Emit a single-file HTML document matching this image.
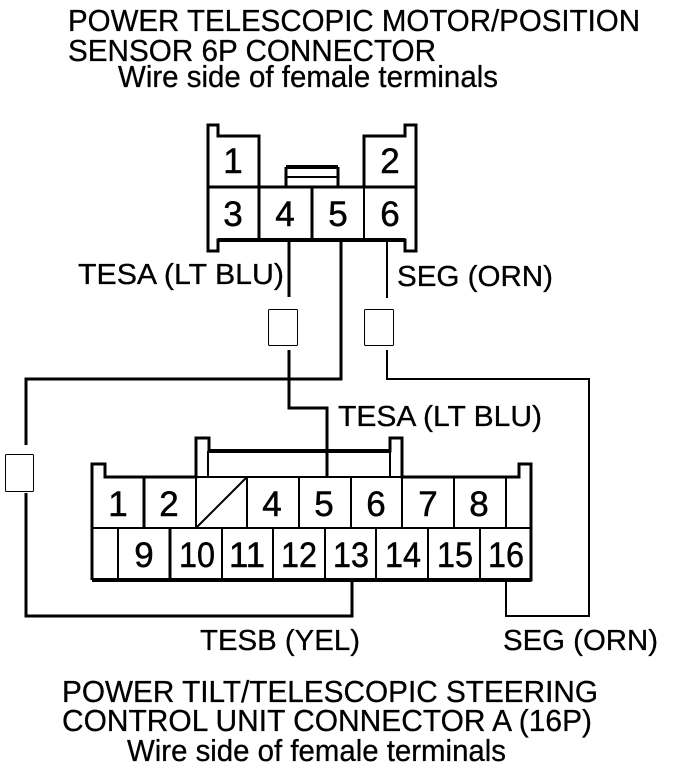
<!DOCTYPE html>
<html><head><meta charset="utf-8"><style>
html,body{margin:0;padding:0;background:#fff;width:688px;height:772px;overflow:hidden}
svg{display:block}
text{font-family:"Liberation Sans",sans-serif;fill:#000;stroke:#000;stroke-width:.3px}
.t{font-size:31px}
.l{font-size:29px}
.n{font-size:35px;text-anchor:middle;stroke-width:.5px}
</style></head><body>
<svg width="688" height="772" viewBox="0 0 688 772" xmlns="http://www.w3.org/2000/svg">
<rect width="688" height="772" fill="#fff"/>
<text class="t" x="68" y="31" textLength="572" lengthAdjust="spacingAndGlyphs">POWER TELESCOPIC MOTOR/POSITION</text>
<text class="t" x="68" y="61" textLength="368" lengthAdjust="spacingAndGlyphs">SENSOR 6P CONNECTOR</text>
<text class="t" x="118" y="87" textLength="380" lengthAdjust="spacingAndGlyphs">Wire side of female terminals</text>
<text class="l" x="78" y="284" textLength="206" lengthAdjust="spacingAndGlyphs">TESA (LT BLU)</text>
<text class="l" x="397" y="286" textLength="156" lengthAdjust="spacingAndGlyphs">SEG (ORN)</text>
<text class="l" x="338" y="426" textLength="204" lengthAdjust="spacingAndGlyphs">TESA (LT BLU)</text>
<text class="l" x="200" y="650" textLength="160" lengthAdjust="spacingAndGlyphs">TESB (YEL)</text>
<text class="l" x="503" y="650" textLength="155" lengthAdjust="spacingAndGlyphs">SEG (ORN)</text>
<text class="t" x="62" y="702" textLength="536" lengthAdjust="spacingAndGlyphs">POWER TILT/TELESCOPIC STEERING</text>
<text class="t" x="62" y="731" textLength="530" lengthAdjust="spacingAndGlyphs">CONTROL UNIT CONNECTOR A (16P)</text>
<text class="t" x="127" y="761" textLength="379" lengthAdjust="spacingAndGlyphs">Wire side of female terminals</text>

<g fill="none" stroke="#000" stroke-linejoin="miter">
<!-- top connector -->
<path stroke-width="3" d="M259 187V136H218V125H208V251H218V240H405V251H416V125H405V136H364V187"/>
<path stroke-width="4" d="M218 240H405M286 167H338"/>
<path stroke-width="3" d="M208 187H416M259 187V240M312 187V240M286 187V167M338 167V187"/>
<path stroke-width="2" d="M364 187V240M286 177H338"/>
<!-- wires -->
<path stroke-width="3" d="M289 240V297M341 240V379H26V445M26 493V616H352V581M289 350V408H327V478"/>
<path stroke-width="2" d="M387 240V298M387 350V379H589V616H506V581"/>
<!-- fuse-like boxes -->
<g stroke-width="1">
<rect x="268.500" y="309.500" width="29" height="36" rx="1"/>
<rect x="364.500" y="309.500" width="29" height="36" rx="1"/>
<rect x="5.500" y="454.500" width="28" height="37" rx="1"/>
</g>
<!-- bottom connector -->
<path stroke-width="3" d="M92 580V464H105V477H196V438H209V451H390V438H402V477H519V464H531V580H92"/>
<path stroke-width="4" d="M92 580H531M209 451H390"/>
<path stroke-width="2" d="M208 451V477M390 451V477M92 528H531M196 477H402M196 477V528M247 477V528M299 477V528M351 477V528M402 477V528M454 477V528M506 477V528M118 528V580M222 528V580M273 528V580M325 528V580M376 528V580M428 528V580M480 528V580"/>
<path stroke-width="3" d="M144 477V528M170 528V580"/>
<path stroke-width="2" d="M196 528L247 477"/>
</g>

<g class="nums">
<text class="n" x="233" y="173">1</text>
<text class="n" x="390" y="173">2</text>
<text class="n" x="233" y="226">3</text>
<text class="n" x="285" y="226">4</text>
<text class="n" x="338" y="226">5</text>
<text class="n" x="390" y="226">6</text>
<text class="n" x="118" y="516">1</text>
<text class="n" x="169" y="516">2</text>
<text class="n" x="272" y="516">4</text>
<text class="n" x="324" y="516">5</text>
<text class="n" x="376" y="516">6</text>
<text class="n" x="428" y="516">7</text>
<text class="n" x="479" y="516">8</text>
<text class="n" x="144" y="567">9</text>
<text class="n" x="197" y="567" textLength="36" lengthAdjust="spacingAndGlyphs">10</text>
<text class="n" x="247" y="567" textLength="36" lengthAdjust="spacingAndGlyphs">11</text>
<text class="n" x="299" y="567" textLength="36" lengthAdjust="spacingAndGlyphs">12</text>
<text class="n" x="351" y="567" textLength="36" lengthAdjust="spacingAndGlyphs">13</text>
<text class="n" x="403" y="567" textLength="36" lengthAdjust="spacingAndGlyphs">14</text>
<text class="n" x="455" y="567" textLength="36" lengthAdjust="spacingAndGlyphs">15</text>
<text class="n" x="506" y="567" textLength="36" lengthAdjust="spacingAndGlyphs">16</text>
</g>
</svg>
</body></html>
